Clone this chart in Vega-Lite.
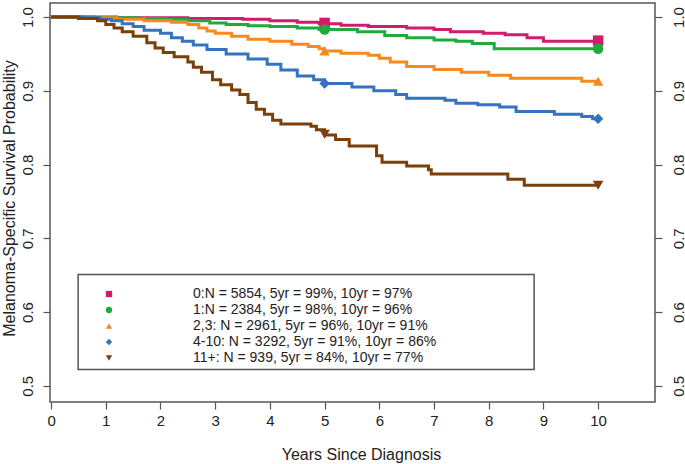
{
  "$schema": "https://vega.github.io/schema/vega-lite/v6.json",
  "width": 605,
  "height": 399,
  "autosize": "none",
  "padding": {"left": 50, "top": 3, "right": 30, "bottom": 62},
  "background": "white",
  "config": {
    "font": "Liberation Sans",
    "view": {"stroke": "#555", "strokeWidth": 1.5},
    "axis": {"grid": false, "domain": false, "tickColor": "#555", "tickSize": 7, "tickWidth": 1.2,
             "labelFontSize": 15, "labelColor": "#222", "titleFontSize": 16, "titleFontWeight": "normal", "titleColor": "#222"},
    "legend": {"orient": "none", "legendX": 52, "legendY": 284, "padding": 0,
               "labelFontSize": 14, "labelColor": "#222", "labelLimit": 400, "labelOffset": 77, "symbolSize": 40, "rowPadding": 2,
               "symbolOpacity": 1, "symbolStrokeWidth": 0}
  },
  "datasets": {
    "groups": [
      {"k": "0", "label": "0:N = 5854, 5yr = 99%, 10yr = 97%"},
      {"k": "1", "label": " 1:N = 2384, 5yr = 98%, 10yr = 96%"},
      {"k": "2,3", "label": "2,3: N = 2961, 5yr = 96%, 10yr = 91%"},
      {"k": "4-10", "label": "4-10: N = 3292, 5yr = 91%, 10yr = 86%"},
      {"k": "11+", "label": "11+: N = 939, 5yr = 84%, 10yr = 77%"}
    ],
    "curves": [
      {"k":"0","t":0,"s":1.0},{"k":"0","t":1.2,"s":0.999},{"k":"0","t":2.5,"s":0.998},{"k":"0","t":3.5,"s":0.997},{"k":"0","t":4.0,"s":0.995},{"k":"0","t":4.5,"s":0.993},{"k":"0","t":4.9,"s":0.991},{"k":"0","t":5.3,"s":0.989},{"k":"0","t":5.8,"s":0.987},{"k":"0","t":6.5,"s":0.985},{"k":"0","t":7.0,"s":0.983},{"k":"0","t":7.3,"s":0.980},{"k":"0","t":7.9,"s":0.978},{"k":"0","t":8.3,"s":0.976},{"k":"0","t":8.7,"s":0.972},{"k":"0","t":9.0,"s":0.967},{"k":"0","t":10,"s":0.967},
      {"k":"1","t":0,"s":1.0},{"k":"1","t":0.8,"s":0.999},{"k":"1","t":1.6,"s":0.998},{"k":"1","t":2.1,"s":0.997},{"k":"1","t":2.5,"s":0.995},{"k":"1","t":2.9,"s":0.992},{"k":"1","t":3.2,"s":0.990},{"k":"1","t":3.6,"s":0.988},{"k":"1","t":4.0,"s":0.987},{"k":"1","t":4.5,"s":0.985},{"k":"1","t":4.9,"s":0.983},{"k":"1","t":5.6,"s":0.980},{"k":"1","t":6.1,"s":0.975},{"k":"1","t":6.5,"s":0.972},{"k":"1","t":7.0,"s":0.969},{"k":"1","t":7.4,"s":0.967},{"k":"1","t":7.7,"s":0.964},{"k":"1","t":8.1,"s":0.957},{"k":"1","t":10,"s":0.957},
      {"k":"2,3","t":0,"s":1.0},{"k":"2,3","t":0.7,"s":0.999},{"k":"2,3","t":1.2,"s":0.997},{"k":"2,3","t":1.7,"s":0.995},{"k":"2,3","t":2.2,"s":0.993},{"k":"2,3","t":2.5,"s":0.990},{"k":"2,3","t":2.7,"s":0.985},{"k":"2,3","t":2.85,"s":0.981},{"k":"2,3","t":3.0,"s":0.978},{"k":"2,3","t":3.3,"s":0.974},{"k":"2,3","t":3.6,"s":0.970},{"k":"2,3","t":4.0,"s":0.967},{"k":"2,3","t":4.4,"s":0.963},{"k":"2,3","t":4.7,"s":0.960},{"k":"2,3","t":4.9,"s":0.957},{"k":"2,3","t":5.0,"s":0.954},{"k":"2,3","t":5.3,"s":0.951},{"k":"2,3","t":5.8,"s":0.948},{"k":"2,3","t":6.0,"s":0.944},{"k":"2,3","t":6.2,"s":0.939},{"k":"2,3","t":6.5,"s":0.933},{"k":"2,3","t":7.0,"s":0.929},{"k":"2,3","t":7.5,"s":0.925},{"k":"2,3","t":8.0,"s":0.921},{"k":"2,3","t":8.4,"s":0.917},{"k":"2,3","t":9.7,"s":0.913},{"k":"2,3","t":10,"s":0.913},
      {"k":"4-10","t":0,"s":1.0},{"k":"4-10","t":0.6,"s":0.999},{"k":"4-10","t":0.9,"s":0.997},{"k":"4-10","t":1.1,"s":0.995},{"k":"4-10","t":1.3,"s":0.991},{"k":"4-10","t":1.5,"s":0.987},{"k":"4-10","t":1.7,"s":0.982},{"k":"4-10","t":2.0,"s":0.978},{"k":"4-10","t":2.2,"s":0.972},{"k":"4-10","t":2.4,"s":0.967},{"k":"4-10","t":2.6,"s":0.962},{"k":"4-10","t":2.85,"s":0.956},{"k":"4-10","t":3.2,"s":0.950},{"k":"4-10","t":3.6,"s":0.943},{"k":"4-10","t":3.95,"s":0.936},{"k":"4-10","t":4.2,"s":0.928},{"k":"4-10","t":4.5,"s":0.920},{"k":"4-10","t":4.8,"s":0.915},{"k":"4-10","t":5.0,"s":0.910},{"k":"4-10","t":5.5,"s":0.905},{"k":"4-10","t":5.9,"s":0.900},{"k":"4-10","t":6.3,"s":0.895},{"k":"4-10","t":6.5,"s":0.890},{"k":"4-10","t":7.2,"s":0.887},{"k":"4-10","t":7.4,"s":0.883},{"k":"4-10","t":7.8,"s":0.881},{"k":"4-10","t":8.2,"s":0.878},{"k":"4-10","t":8.5,"s":0.872},{"k":"4-10","t":9.2,"s":0.868},{"k":"4-10","t":9.7,"s":0.865},{"k":"4-10","t":9.9,"s":0.862},{"k":"4-10","t":10,"s":0.862},
      {"k":"11+","t":0,"s":1.0},{"k":"11+","t":0.5,"s":0.998},{"k":"11+","t":0.85,"s":0.995},{"k":"11+","t":1.0,"s":0.990},{"k":"11+","t":1.15,"s":0.985},{"k":"11+","t":1.3,"s":0.980},{"k":"11+","t":1.5,"s":0.974},{"k":"11+","t":1.75,"s":0.965},{"k":"11+","t":1.9,"s":0.958},{"k":"11+","t":2.05,"s":0.952},{"k":"11+","t":2.25,"s":0.946},{"k":"11+","t":2.5,"s":0.939},{"k":"11+","t":2.6,"s":0.932},{"k":"11+","t":2.75,"s":0.925},{"k":"11+","t":2.95,"s":0.915},{"k":"11+","t":3.1,"s":0.908},{"k":"11+","t":3.3,"s":0.901},{"k":"11+","t":3.45,"s":0.895},{"k":"11+","t":3.6,"s":0.884},{"k":"11+","t":3.75,"s":0.875},{"k":"11+","t":3.9,"s":0.868},{"k":"11+","t":4.05,"s":0.860},{"k":"11+","t":4.2,"s":0.855},{"k":"11+","t":4.75,"s":0.852},{"k":"11+","t":4.85,"s":0.847},{"k":"11+","t":5.0,"s":0.840},{"k":"11+","t":5.2,"s":0.834},{"k":"11+","t":5.45,"s":0.825},{"k":"11+","t":5.95,"s":0.812},{"k":"11+","t":6.05,"s":0.803},{"k":"11+","t":6.5,"s":0.798},{"k":"11+","t":6.9,"s":0.793},{"k":"11+","t":6.95,"s":0.787},{"k":"11+","t":8.35,"s":0.780},{"k":"11+","t":8.65,"s":0.772},{"k":"11+","t":10,"s":0.772}
    ],
    "markers": [
      {"k":"0","t":5,"s":0.992},{"k":"0","t":10,"s":0.968},
      {"k":"1","t":5,"s":0.983},{"k":"1","t":10,"s":0.957},
      {"k":"2,3","t":5,"s":0.954},{"k":"2,3","t":10,"s":0.913},
      {"k":"4-10","t":5,"s":0.910},{"k":"4-10","t":10,"s":0.862},
      {"k":"11+","t":5,"s":0.841},{"k":"11+","t":10,"s":0.772}
    ]
  },
  "layer": [
    {
      "data": {"values": [{}]},
      "mark": {"type": "rect", "fill": null, "fillOpacity": 0, "stroke": "#555", "strokeWidth": 1.5},
      "encoding": {
        "x": {"datum": 0.494, "type": "quantitative", "scale": {"domain": [-0.02, 11.04], "nice": false, "zero": false},
              "axis": {"values": [0,1,2,3,4,5,6,7,8,9,10], "format": "d", "labelPadding": 4, "titleX": 311, "titleY": 57, "titleBaseline": "alphabetic", "title": "Years Since Diagnosis"}},
        "x2": {"datum": 8.83},
        "y": {"datum": 0.651, "type": "quantitative", "scale": {"domain": [0.478, 1.019], "nice": false, "zero": false}, "axis": null},
        "y2": {"datum": 0.522}
      }
    },
    {
      "data": {"name": "curves"},
      "transform": [{"lookup": "k", "from": {"data": {"name": "groups"}, "key": "k", "fields": ["label"]}}],
      "mark": {"type": "line", "interpolate": "step-after", "strokeWidth": 3},
      "encoding": {
        "x": {"field": "t", "type": "quantitative",
              "axis": {"values": [0,1,2,3,4,5,6,7,8,9,10], "format": "d", "labelPadding": 4, "titleX": 311, "titleY": 57, "titleBaseline": "alphabetic", "title": "Years Since Diagnosis"}},
        "y": {"field": "s", "type": "quantitative",
              "axis": {"orient": "left", "values": [0.5,0.6,0.7,0.8,0.9,1.0], "format": ".1f", "labelAngle": 270, "labelAlign": "center", "labelBaseline": "bottom", "labelPadding": 8,
                       "title": "Melanoma-Specific Survival Probability", "titleX": -36, "titleY": 195, "titleBaseline": "alphabetic"}},
        "color": {"field": "label", "type": "nominal", "title": null,
                  "scale": {"domain": ["0:N = 5854, 5yr = 99%, 10yr = 97%", " 1:N = 2384, 5yr = 98%, 10yr = 96%", "2,3: N = 2961, 5yr = 96%, 10yr = 91%", "4-10: N = 3292, 5yr = 91%, 10yr = 86%", "11+: N = 939, 5yr = 84%, 10yr = 77%"],
                            "range": ["#cf1d6b", "#1faa3c", "#f7891e", "#3572bf", "#7b3f09"]}}
      }
    },
    {
      "data": {"name": "markers"},
      "transform": [{"lookup": "k", "from": {"data": {"name": "groups"}, "key": "k", "fields": ["label"]}}],
      "mark": {"type": "point", "filled": true, "opacity": 1, "size": 110, "strokeWidth": 0},
      "encoding": {
        "x": {"field": "t", "type": "quantitative",
              "axis": {"values": [0,1,2,3,4,5,6,7,8,9,10], "format": "d", "labelPadding": 4, "titleX": 311, "titleY": 57, "titleBaseline": "alphabetic", "title": "Years Since Diagnosis"}},
        "y": {"field": "s", "type": "quantitative",
              "axis": {"orient": "right", "values": [0.5,0.6,0.7,0.8,0.9,1.0], "format": ".1f", "labelAngle": 270, "labelAlign": "center", "labelBaseline": "top", "labelPadding": 9, "title": null}},
        "color": {"field": "label", "type": "nominal", "title": null},
        "shape": {"field": "label", "type": "nominal", "title": null,
                  "scale": {"domain": ["0:N = 5854, 5yr = 99%, 10yr = 97%", " 1:N = 2384, 5yr = 98%, 10yr = 96%", "2,3: N = 2961, 5yr = 96%, 10yr = 91%", "4-10: N = 3292, 5yr = 91%, 10yr = 86%", "11+: N = 939, 5yr = 84%, 10yr = 77%"],
                            "range": ["square", "circle", "triangle-up", "diamond", "triangle-down"]}}
      }
    }
  ],
  "resolve": {"axis": {"y": "independent"}}
}
